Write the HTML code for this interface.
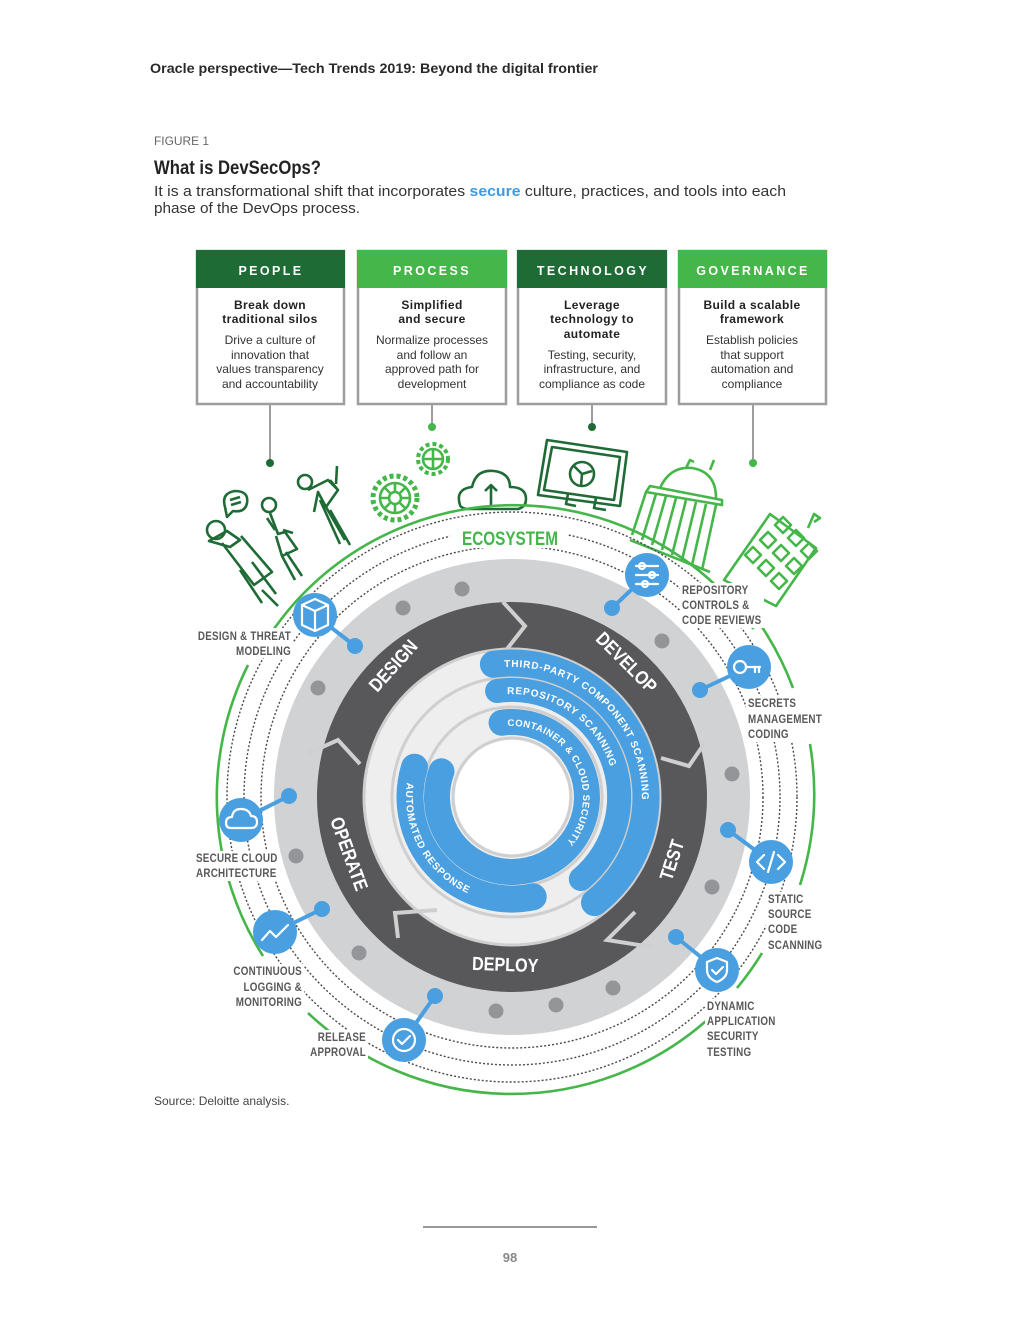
<!DOCTYPE html>
<html><head><meta charset="utf-8"><style>
html,body{margin:0;padding:0;background:#fff}
svg{display:block}
.n{font-family:"Liberation Sans Narrow","Liberation Sans",sans-serif;font-weight:bold}
.s{font-family:"Liberation Sans",sans-serif}
.lb{font-family:"Liberation Sans Narrow","Liberation Sans",sans-serif;font-weight:bold;font-size:12px;fill:#58585b;letter-spacing:0.3px}
.bt{font-family:"Liberation Sans",sans-serif;font-size:12px;fill:#333;text-anchor:middle}
.bb{font-family:"Liberation Sans",sans-serif;font-size:12px;font-weight:bold;fill:#222;text-anchor:middle;letter-spacing:0.4px}
.hd{font-family:"Liberation Sans",sans-serif;font-size:12.5px;font-weight:bold;fill:#fff;text-anchor:middle;letter-spacing:2.4px}
.g{fill:none;stroke:#1f6b36;stroke-width:2.6;stroke-linejoin:round}
.gl{fill:none;stroke:#45b649;stroke-width:2.6;stroke-linejoin:round}
.ic{fill:none;stroke:#fff;stroke-width:2.2;stroke-linecap:round;stroke-linejoin:round}
</style></head><body>
<svg width="1020" height="1320" viewBox="0 0 1020 1320" xmlns="http://www.w3.org/2000/svg">
<!-- header -->
<text x="150" y="73" class="s" font-size="14" fill="#2a2a2a" font-weight="bold" textLength="448" lengthAdjust="spacingAndGlyphs">Oracle perspective—Tech Trends 2019: Beyond the digital frontier</text>
<text x="154" y="145" class="s" font-size="12" fill="#666" textLength="55" lengthAdjust="spacingAndGlyphs">FIGURE 1</text>
<text x="154" y="174" class="n" font-size="19" fill="#222" textLength="167" lengthAdjust="spacingAndGlyphs">What is DevSecOps?</text>
<text x="154" y="196" class="s" font-size="14.5" fill="#333" textLength="632" lengthAdjust="spacingAndGlyphs">It is a transformational shift that incorporates <tspan fill="#3d9be0" font-weight="bold">secure</tspan> culture, practices, and tools into each</text>
<text x="154" y="213" class="s" font-size="14.5" fill="#333" textLength="206" lengthAdjust="spacingAndGlyphs">phase of the DevOps process.</text>

<!-- boxes -->
<g stroke="#9d9d9d" stroke-width="2.5" fill="#fff">
<rect x="197" y="251" width="147" height="153"/>
<rect x="358" y="251" width="148" height="153"/>
<rect x="518" y="251" width="148" height="153"/>
<rect x="679" y="251" width="147" height="153"/>
</g>
<rect x="196" y="250" width="149" height="38" fill="#1e6b35"/>
<rect x="357" y="250" width="150" height="38" fill="#45b649"/>
<rect x="517" y="250" width="150" height="38" fill="#1e6b35"/>
<rect x="678" y="250" width="149" height="38" fill="#45b649"/>
<text x="271" y="275" class="hd">PEOPLE</text>
<text x="432" y="275" class="hd">PROCESS</text>
<text x="593" y="275" class="hd">TECHNOLOGY</text>
<text x="753" y="275" class="hd">GOVERNANCE</text>

<text x="270" y="309" class="bb">Break down</text>
<text x="270" y="323" class="bb">traditional silos</text>
<text x="270" y="344" class="bt">Drive a culture of</text>
<text x="270" y="359" class="bt">innovation that</text>
<text x="270" y="373" class="bt">values transparency</text>
<text x="270" y="388" class="bt">and accountability</text>

<text x="432" y="309" class="bb">Simplified</text>
<text x="432" y="323" class="bb">and secure</text>
<text x="432" y="344" class="bt">Normalize processes</text>
<text x="432" y="359" class="bt">and follow an</text>
<text x="432" y="373" class="bt">approved path for</text>
<text x="432" y="388" class="bt">development</text>

<text x="592" y="309" class="bb">Leverage</text>
<text x="592" y="323" class="bb">technology to</text>
<text x="592" y="338" class="bb">automate</text>
<text x="592" y="359" class="bt">Testing, security,</text>
<text x="592" y="373" class="bt">infrastructure, and</text>
<text x="592" y="388" class="bt">compliance as code</text>

<text x="752" y="309" class="bb">Build a scalable</text>
<text x="752" y="323" class="bb">framework</text>
<text x="752" y="344" class="bt">Establish policies</text>
<text x="752" y="359" class="bt">that support</text>
<text x="752" y="373" class="bt">automation and</text>
<text x="752" y="388" class="bt">compliance</text>

<!-- connectors -->
<g stroke="#9d9d9d" stroke-width="2">
<line x1="270" y1="405" x2="270" y2="462"/>
<line x1="432" y1="405" x2="432" y2="426"/>
<line x1="592" y1="405" x2="592" y2="426"/>
<line x1="753" y1="405" x2="753" y2="462"/>
</g>
<circle cx="270" cy="463" r="4" fill="#1e6b35"/>
<circle cx="432" cy="427" r="4" fill="#45b649"/>
<circle cx="592" cy="427" r="4" fill="#1e6b35"/>
<circle cx="753" cy="463" r="4" fill="#45b649"/>

<!-- green illustrations -->
<g class="g">
<circle cx="216" cy="530" r="9"/>
<path d="M209 541 L227 531 L240 540 L230 547 Z"/>
<path d="M222 543 L254 585 L272 572 L241 536"/>
<path d="M240 570 L262 603 M252 562 L276 594 M262 590 L278 606"/>
<path d="M225 507 q-4 -14 10 -16 q14 0 12 12 q-2 10 -14 8 l-6 6 z"/>
<path d="M230 500 l10 -3 M231 505 l10 -3"/>
<circle cx="269" cy="505" r="7"/>
<path d="M270 513 L278 534 L285 532 L297 549 L282 556 L276 536 M286 552 L302 576 M282 556 L295 580"/>
<path d="M275 530 l-8 -12 M283 530 l10 3"/>
<circle cx="305" cy="482" r="7"/>
<path d="M308 490 L328 480 L338 490 L326 507 L318 492 L314 512 M326 507 L345 540 M320 500 L340 544 M330 510 L350 545"/>
<path d="M336 484 L337 466 M330 480 l8 10"/>
</g>
<g class="gl">
<circle cx="395" cy="498" r="22" stroke-dasharray="4 3" stroke-width="5"/>
<circle cx="395" cy="498" r="15"/>
<circle cx="395" cy="498" r="6"/>
<path d="M395 483 v9 M395 504 v9 M380 498 h9 M401 498 h9 M384 487 l6 6 M400 503 l6 6 M406 487 l-6 6 M384 509 l6 -6"/>
<circle cx="433" cy="459" r="15" stroke-dasharray="4 3" stroke-width="4"/>
<circle cx="433" cy="459" r="10"/>
<path d="M433 449 v20 M423 459 h20"/>
</g>
<path class="g" d="M460 505 q-5 -16 12 -18 q4 -18 22 -16 q16 2 16 16 q16 0 16 12 q0 8 -8 10 h-52 q-6 -2 -6 -4 z"/>
<path class="g" d="M491 505 v-20 M485 491 l6 -6 l6 6"/>
<g class="g">
<path d="M547 440 L627 452 L620 506 L538 495 Z"/>
<path d="M552 447 L620 457 L614 500 L544 490 Z"/>
<circle cx="582" cy="474" r="12"/>
<path d="M582 474 l-8 -8 M582 474 l10 -3 M582 474 l-1 12"/>
<path d="M568 494 l-2 10 l10 2 M596 498 l-2 10 l12 2"/>
</g>
<g class="gl">
<path d="M660 488 q10 -22 32 -20 q24 4 24 30"/>
<path d="M686 468 l4 -8 l4 2 M710 470 l4 -10"/>
<path d="M650 486 L722 500 L722 505 L646 492 Z"/>
<path d="M646 492 L632 535 M656 494 L642 540 M666 496 L652 545 M676 498 L662 550 M686 500 L672 555 M696 502 L682 560 M706 504 L692 565 M716 505 L702 570"/>
<path d="M630 540 L710 572"/>
</g>
<g class="gl">
<path d="M724 580 L770 514 L816 548 L776 606 Z"/>
<path d="M745 555 l8 -8 l8 8 l-8 8 z M760 540 l8 -8 l8 8 l-8 8 z M775 525 l8 -8 l8 8 l-8 8 z M758 568 l8 -8 l8 8 l-8 8 z M773 553 l8 -8 l8 8 l-8 8 z M788 538 l8 -8 l8 8 l-8 8 z M771 581 l8 -8 l8 8 l-8 8 z M786 566 l8 -8 l8 8 l-8 8 z M801 551 l8 -8 l8 8 l-8 8 z"/>
<path d="M808 528 l6 -14 l6 4 l-6 4"/>
</g>

<!-- green arcs -->
<g fill="none" stroke="#45b649" stroke-width="2.6">
<path d="M 270.5 634 A 294 294 0 0 1 753.5 629"/>
<path d="M 248 665 A 296 296 0 0 0 263 956"/>
<path d="M 308 1013 A 296 296 0 0 0 706 1021"/>
<path d="M 762 627 A 300 300 0 0 1 793 688"/>
<path d="M 810 744 A 300 300 0 0 1 800 885"/>
<path d="M 762 953 A 300 300 0 0 1 737 988"/>
</g>
<g fill="none" stroke="#4a4a4a" stroke-width="1.4" stroke-dasharray="2 2">
<circle cx="512" cy="797" r="251"/>
<circle cx="512" cy="797" r="268"/>
<circle cx="512" cy="797" r="285"/>
</g>
<rect x="450" y="522" width="118" height="26" fill="#fff"/>
<text x="510" y="545" class="n" font-size="19" fill="#45b649" text-anchor="middle" textLength="96" lengthAdjust="spacingAndGlyphs">ECOSYSTEM</text>

<circle cx="512" cy="797" r="216" fill="none" stroke="#d1d2d3" stroke-width="44"/>
<circle cx="512" cy="797" r="171.5" fill="none" stroke="#58585b" stroke-width="47"/>
<circle cx="512" cy="797" r="148" fill="#eeeeee"/>
<g fill="none" stroke="#cfcfcf" stroke-width="3">
<circle cx="512" cy="797" r="148"/>
<circle cx="512" cy="797" r="120"/>
<circle cx="512" cy="797" r="90"/>
<circle cx="512" cy="797" r="59"/>
</g>
<circle cx="512" cy="797" r="57" fill="#fff"/>

<g fill="none" stroke="#cfcfcf" stroke-width="4" stroke-linejoin="miter">
<path d="M 503 602 L 525 626 L 507 649"/>
<path d="M 704 744 L 689 766 L 661 758"/>
<path d="M 635 912 L 607 940 L 652 947"/>
<path d="M 398 938 L 395 913 L 437 910"/>
<path d="M 309 753 L 338 740 L 360 764"/>
</g>

<g class="n" font-size="19" fill="#fff" text-anchor="middle">
<text transform="translate(398,670) rotate(-48) scale(0.85,1)">DESIGN</text>
<text transform="translate(622,667) rotate(45) scale(0.85,1)">DEVELOP</text>
<text transform="translate(678,862) rotate(-72) scale(0.85,1)">TEST</text>
<text transform="translate(505,971) rotate(2) scale(0.85,1)">DEPLOY</text>
<text transform="translate(343,856) rotate(70) scale(0.85,1)">OPERATE</text>
</g>

<g fill="none" stroke="#4a9fe0" stroke-linecap="round">
<path d="M 493.4 664.3 A 134 134 0 0 1 594.5 902.6" stroke-width="27"/>
<path d="M 497.1 691.0 A 107 107 0 0 1 580.8 879.0" stroke-width="24"/>
<path d="M 501.6 722.7 A 75 75 0 1 1 441.5 771.3" stroke-width="26"/>
<path d="M 414.5 767.2 A 102 102 0 0 0 533.2 896.8" stroke-width="27"/>
</g>
<defs>
<path id="p1" d="M 498.4 667.7 A 130 130 0 0 1 592.0 899.4"/>
<path id="p2" d="M 501.2 694.6 A 103 103 0 0 1 580.9 873.5"/>
<path id="p3" d="M 504.6 726.4 A 71 71 0 0 1 530.4 865.6"/>
<path id="p4" d="M 407.6 778.6 A 106 106 0 0 0 530.4 901.4"/>
</defs>
<g class="n" font-size="10" fill="#fff" letter-spacing="0.8">
<text><textPath href="#p1" startOffset="6">THIRD-PARTY COMPONENT SCANNING</textPath></text>
<text><textPath href="#p2" startOffset="6">REPOSITORY SCANNING</textPath></text>
<text font-size="9.5" letter-spacing="0.5"><textPath href="#p3" startOffset="3">CONTAINER &amp; CLOUD SECURITY</textPath></text>
<text><textPath href="#p4" startOffset="4">AUTOMATED RESPONSE</textPath></text>
</g>

<g fill="#939598">
<circle cx="462" cy="589" r="7.5"/><circle cx="403" cy="608" r="7.5"/>
<circle cx="318" cy="688" r="7.5"/><circle cx="296" cy="856" r="7.5"/>
<circle cx="359" cy="953" r="7.5"/><circle cx="496" cy="1011" r="7.5"/>
<circle cx="556" cy="1005" r="7.5"/><circle cx="613" cy="988" r="7.5"/>
<circle cx="712" cy="887" r="7.5"/><circle cx="732" cy="774" r="7.5"/>
<circle cx="662" cy="641" r="7.5"/>
</g>

<g stroke="#4a9fe0" stroke-width="4">
<line x1="315" y1="615" x2="355" y2="646"/>
<line x1="647" y1="575" x2="612" y2="608"/>
<line x1="749" y1="667" x2="700" y2="690"/>
<line x1="771" y1="862" x2="728" y2="830"/>
<line x1="717" y1="970" x2="676" y2="937"/>
<line x1="404" y1="1040" x2="435" y2="996"/>
<line x1="275" y1="932" x2="322" y2="909"/>
<line x1="241" y1="820" x2="289" y2="796"/>
</g>
<g fill="#4a9fe0">
<circle cx="355" cy="646" r="8"/><circle cx="612" cy="608" r="8"/>
<circle cx="700" cy="690" r="8"/><circle cx="728" cy="830" r="8"/>
<circle cx="676" cy="937" r="8"/><circle cx="435" cy="996" r="8"/>
<circle cx="322" cy="909" r="8"/><circle cx="289" cy="796" r="8"/>
<circle cx="315" cy="615" r="22"/><circle cx="647" cy="575" r="22"/>
<circle cx="749" cy="667" r="22"/><circle cx="771" cy="862" r="22"/>
<circle cx="717" cy="970" r="22"/><circle cx="404" cy="1040" r="22"/>
<circle cx="275" cy="932" r="22"/><circle cx="241" cy="820" r="22"/>
</g>
<g class="ic">
<path d="M302 605 l13 -6 l13 6 v20 l-13 6 l-13 -6 z M302 605 l13 6 l13 -6 M315 611 v20"/>
<path d="M636 566 h22 M636 575 h22 M636 584 h22"/><circle cx="642" cy="566" r="3"/><circle cx="652" cy="575" r="3"/><circle cx="645" cy="584" r="3"/>
<circle cx="740" cy="667" r="6"/><path d="M746 667 h14 M755 667 v5 M759 667 v5"/>
<path d="M764 855 l-7 7 l7 7 M778 855 l7 7 l-7 7 M774 852 l-6 20"/>
<path d="M717 958 l10 4 v8 q0 8 -10 12 q-10 -4 -10 -12 v-8 z M712 970 l4 4 l7 -7"/>
<circle cx="404" cy="1040" r="11"/><path d="M398 1040 l4 4 l8 -8"/>
<path d="M262 940 l8 -9 l6 6 l12 -12"/>
<path d="M231 828 h20 q6 0 6 -6 q0 -6 -6 -6 q-2 -7 -10 -7 q-8 0 -9 8 q-6 0 -6 6 q0 5 5 5 z"/>
</g>

<!-- side labels -->
<rect x="195" y="628" width="98" height="30" fill="#fff"/>
<rect x="228" y="964" width="76" height="46" fill="#fff"/>
<rect x="308" y="1030" width="60" height="30" fill="#fff"/>
<rect x="194" y="851" width="82" height="30" fill="#fff"/>
<rect x="680" y="583" width="84" height="45" fill="#fff"/>
<rect x="746" y="696" width="82" height="46" fill="#fff"/>
<rect x="766" y="892" width="62" height="61" fill="#fff"/>
<rect x="705" y="999" width="76" height="61" fill="#fff"/>
<g class="lb">
<g text-anchor="end" transform="translate(291,0) scale(0.82,1) translate(-291,0)">
<text x="291" y="640">DESIGN &amp; THREAT</text><text x="291" y="655">MODELING</text>
</g>
<g text-anchor="end" transform="translate(302,0) scale(0.82,1) translate(-302,0)">
<text x="302" y="975">CONTINUOUS</text><text x="302" y="991">LOGGING &amp;</text><text x="302" y="1006">MONITORING</text>
</g>
<g text-anchor="end" transform="translate(366,0) scale(0.82,1) translate(-366,0)">
<text x="366" y="1041">RELEASE</text><text x="366" y="1056">APPROVAL</text>
</g>
<g transform="translate(196,0) scale(0.82,1) translate(-196,0)">
<text x="196" y="862">SECURE CLOUD</text><text x="196" y="877">ARCHITECTURE</text>
</g>
<g transform="translate(682,0) scale(0.82,1) translate(-682,0)">
<text x="682" y="594">REPOSITORY</text><text x="682" y="609">CONTROLS &amp;</text><text x="682" y="624">CODE REVIEWS</text>
</g>
<g transform="translate(748,0) scale(0.82,1) translate(-748,0)">
<text x="748" y="707">SECRETS</text><text x="748" y="723">MANAGEMENT</text><text x="748" y="738">CODING</text>
</g>
<g transform="translate(768,0) scale(0.82,1) translate(-768,0)">
<text x="768" y="903">STATIC</text><text x="768" y="918">SOURCE</text><text x="768" y="933">CODE</text><text x="768" y="949">SCANNING</text>
</g>
<g transform="translate(707,0) scale(0.82,1) translate(-707,0)">
<text x="707" y="1010">DYNAMIC</text><text x="707" y="1025">APPLICATION</text><text x="707" y="1040">SECURITY</text><text x="707" y="1056">TESTING</text>
</g>
</g>

<text x="154" y="1105" class="s" font-size="12" fill="#444">Source: Deloitte analysis.</text>
<line x1="423" y1="1227" x2="597" y2="1227" stroke="#333" stroke-width="1"/>
<text x="510" y="1262" class="s" font-size="13" font-weight="bold" fill="#888" text-anchor="middle">98</text>
</svg>
</body></html>
